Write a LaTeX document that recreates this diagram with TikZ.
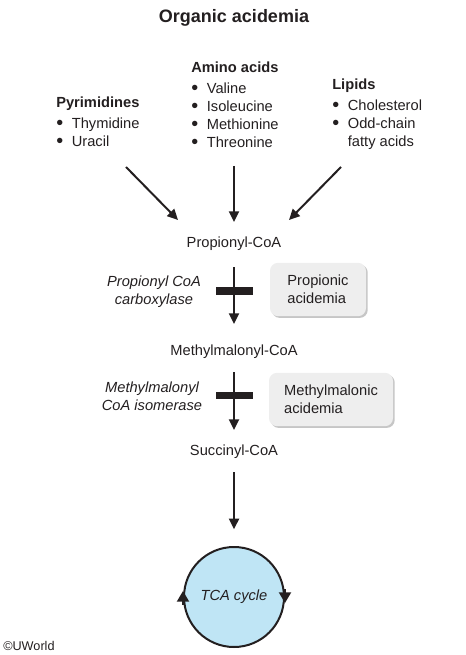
\documentclass[tikz,border=0pt]{standalone}
\usepackage{fontspec}
\setmainfont{Liberation Sans}
\usetikzlibrary{arrows.meta,positioning,calc,shadows}
\definecolor{inkgray}{HTML}{231F20}
\definecolor{tcablue}{HTML}{BFE5F5}
\definecolor{boxgray}{HTML}{EEEEEE}
\newcommand{\bigdot}{\raisebox{-1.4pt}{\scalebox{1.35}{\textbullet}}}

\begin{document}
\begin{tikzpicture}[x=0.75pt,y=-0.75pt,font=\fontsize{11}{13.5}\selectfont,text=inkgray,
 metab/.style={inner sep=0pt,text height=8.5pt,text depth=2.5pt},
 srclist/.style={inner sep=0pt,anchor=north west,align=left},
 enzyme/.style={align=center,font=\fontsize{11}{13.5}\selectfont\itshape},
 defect/.style={fill=boxgray,rounded corners=6pt,align=left,minimum height=40pt,
   drop shadow={shadow xshift=1.3pt,shadow yshift=-1.3pt,opacity=.45}},
 block/.style={fill=inkgray,minimum width=27.75pt,minimum height=5.5pt,inner sep=0pt},
 arr/.style={draw=inkgray,line width=1.5pt,-{Triangle[length=8pt,width=7.5pt]}},
 cyclehead/.style={draw=inkgray,line width=1.5pt,-{Triangle[length=8pt,width=9pt]}}]
\useasboundingbox (0,0) rectangle (465,655);
\node[font=\fontsize{13.5}{16}\selectfont\bfseries] (title) at (234,18) {Organic acidemia};
% sources
\node[srclist] (pyrim) at (56,94.5) {\begin{tabular}{@{}l@{\hspace{6.5pt}}l@{}}
 \multicolumn{2}{@{}l@{}}{\textbf{Pyrimidines}}\\[2pt]
 \bigdot & Thymidine\\ \bigdot & Uracil\end{tabular}};
\node[srclist] (amino) at (191,59.5) {\begin{tabular}{@{}l@{\hspace{6.5pt}}l@{}}
 \multicolumn{2}{@{}l@{}}{\textbf{Amino acids}}\\[2pt]
 \bigdot & Valine\\ \bigdot & Isoleucine\\ \bigdot & Methionine\\ \bigdot & Threonine\end{tabular}};
\node[srclist] (lipids) at (332,76.5) {\begin{tabular}{@{}l@{\hspace{6.5pt}}l@{}}
 \multicolumn{2}{@{}l@{}}{\textbf{Lipids}}\\[2pt]
 \bigdot & Cholesterol\\ \bigdot & Odd-chain\\ & fatty acids\end{tabular}};
\coordinate (pyrimout) at (126,167); \coordinate (pyrimin) at (178,220);
\coordinate (aminoout) at (234,166); \coordinate (aminoin) at (234,222);
\coordinate (lipidsout) at (341,167); \coordinate (lipidsin) at (289,220);
\draw[arr] (pyrimout) -- (pyrimin);
\draw[arr] (aminoout) -- (aminoin);
\draw[arr] (lipidsout) -- (lipidsin);
% pathway
\node[metab] (propcoa) at (234,244) {Propionyl-CoA};
\node[metab] (mmcoa) at (234,351) {Methylmalonyl-CoA};
\node[metab] (succoa) at (234,451) {Succinyl-CoA};
\node[circle,draw=inkgray,line width=1.5pt,fill=tcablue,minimum size=75pt,inner sep=0pt,
 font=\fontsize{11}{13.5}\selectfont\itshape] (tca) at (234,597) {TCA cycle};
\draw[arr,shorten <=11.8pt,shorten >=14.5pt] (propcoa) -- (mmcoa);
\draw[arr,shorten <=10.3pt,shorten >=10pt] (mmcoa) -- (succoa);
\draw[arr,shorten <=10.3pt,shorten >=12.5pt] (succoa) -- (tca);
\node[block] (bar1) at (234,291) {};
\node[block] (bar2) at (234,395.5) {};
\node[enzyme] (ppcase) at (154,292) {Propionyl CoA\\carboxylase};
\node[enzyme] (mmisom) at (152,396) {Methylmalonyl\\CoA isomerase};
\node[defect,minimum width=72pt] (propdef) at (318,289.5) {Propionic\\acidemia};
\node[defect,minimum width=93pt] (mmdef) at (331,399.5) {Methylmalonic\\acidemia};
\draw[cyclehead] ($(tca.west)+(0,8)$) -- ($(tca.west)+(0,-6)$);
\draw[cyclehead] ($(tca.east)+(0,-8)$) -- ($(tca.east)+(0,6)$);
\node[anchor=west,inner sep=0pt,font=\fontsize{9.5}{11}\selectfont] (credit) at (3,646) {©UWorld};
\end{tikzpicture}
\end{document}
